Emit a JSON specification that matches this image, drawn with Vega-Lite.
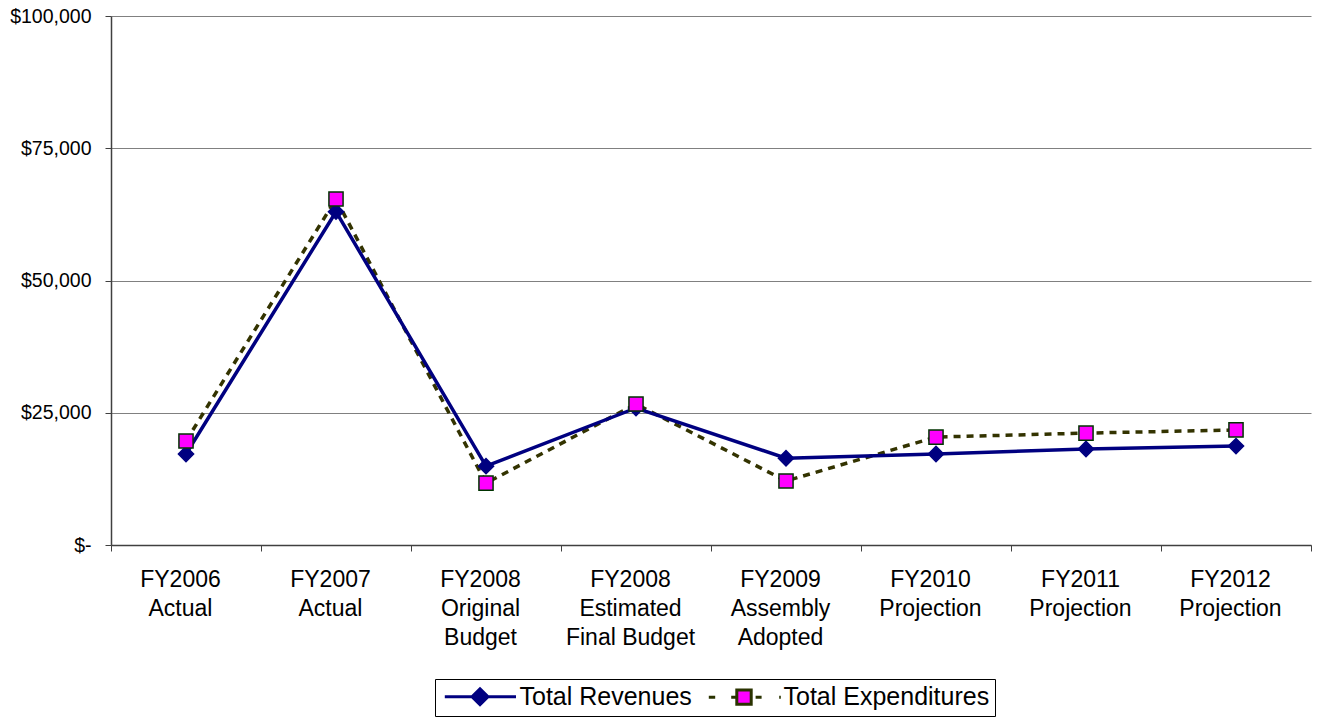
{
  "$schema": "https://vega.github.io/schema/vega-lite/v6.json",
  "width": 1200,
  "height": 529,
  "autosize": {"type": "none"},
  "padding": {"left": 111, "top": 16, "right": 6, "bottom": 172},
  "background": "white",
  "config": {"font": "Liberation Sans", "view": {"stroke": null}},
  "data": {
    "values": [
      {"cat": "FY2006|Actual", "series": "Total Revenues", "value": 17200},
      {"cat": "FY2007|Actual", "series": "Total Revenues", "value": 63000},
      {"cat": "FY2008|Original|Budget", "series": "Total Revenues", "value": 14900},
      {"cat": "FY2008|Estimated|Final Budget", "series": "Total Revenues", "value": 25900},
      {"cat": "FY2009|Assembly|Adopted", "series": "Total Revenues", "value": 16400},
      {"cat": "FY2010|Projection", "series": "Total Revenues", "value": 17200},
      {"cat": "FY2011|Projection", "series": "Total Revenues", "value": 18150},
      {"cat": "FY2012|Projection", "series": "Total Revenues", "value": 18700},
      {"cat": "FY2006|Actual", "series": "Total Expenditures", "value": 19650},
      {"cat": "FY2007|Actual", "series": "Total Expenditures", "value": 65400},
      {"cat": "FY2008|Original|Budget", "series": "Total Expenditures", "value": 11700},
      {"cat": "FY2008|Estimated|Final Budget", "series": "Total Expenditures", "value": 26650},
      {"cat": "FY2009|Assembly|Adopted", "series": "Total Expenditures", "value": 12100},
      {"cat": "FY2010|Projection", "series": "Total Expenditures", "value": 20400},
      {"cat": "FY2011|Projection", "series": "Total Expenditures", "value": 21150},
      {"cat": "FY2012|Projection", "series": "Total Expenditures", "value": 21750}
    ]
  },
  "encoding": {
    "x": {
      "field": "cat",
      "type": "nominal",
      "sort": ["FY2006|Actual", "FY2007|Actual", "FY2008|Original|Budget", "FY2008|Estimated|Final Budget", "FY2009|Assembly|Adopted", "FY2010|Projection", "FY2011|Projection", "FY2012|Projection"],
      "scale": {"type": "band", "paddingInner": 0, "paddingOuter": 0},
      "axis": {
        "title": null,
        "labelExpr": "split(datum.label,'|')",
        "labelAngle": 0,
        "labelFontSize": 23,
        "labelColor": "#000",
        "labelLineHeight": 29,
        "labelPadding": 17,
        "labelOffset": -6,
        "labelBaseline": "top",
        "labelLimit": 300,
        "tickBand": "extent",
        "tickSize": 6,
        "tickColor": "#404040",
        "domainColor": "#404040",
        "domainWidth": 1.5,
        "grid": false
      }
    },
    "y": {
      "field": "value",
      "type": "quantitative",
      "scale": {"domain": [0, 100000], "nice": false},
      "axis": {
        "title": null,
        "values": [0, 25000, 50000, 75000, 100000],
        "labelExpr": "datum.value===0?'$-':'$'+format(datum.value,',')",
        "labelFontSize": 19.5,
        "labelColor": "#000",
        "labelPadding": 14,
        "tickSize": 6,
        "tickColor": "#404040",
        "domainColor": "#404040",
        "domainWidth": 1.5,
        "gridColor": "#808080",
        "gridWidth": 1,
        "gridOpacity": 1
      }
    }
  },
  "layer": [
    {
      "transform": [{"filter": "datum.series==='Total Expenditures'"}],
      "mark": {"type": "line", "color": "#333300", "strokeWidth": 3.5, "strokeDash": [7, 6]}
    },
    {
      "transform": [{"filter": "datum.series==='Total Revenues'"}],
      "mark": {"type": "line", "color": "#000080", "strokeWidth": 3.5}
    },
    {
      "transform": [{"filter": "datum.series==='Total Revenues'"}],
      "mark": {"type": "point", "shape": "diamond", "filled": true, "opacity": 1, "fill": "#000080", "stroke": "#000080", "strokeWidth": 1.5, "size": 230}
    },
    {
      "transform": [{"filter": "datum.series==='Total Expenditures'"}],
      "mark": {"type": "point", "shape": "square", "filled": true, "opacity": 1, "fill": "#ff00ff", "stroke": "#003300", "strokeWidth": 1.5, "size": 200}
    },
    {
      "mark": {"type": "point", "filled": true, "opacity": 0, "strokeWidth": 3},
      "encoding": {
        "shape": {
          "field": "series",
          "type": "nominal",
          "scale": {"domain": ["Total Revenues", "Total Expenditures"], "range": ["M-4.4,0L4.5,0M0,-1L1,0L0,1L-1,0Z", "M-4.4,0L-3.6,0M-1.6,0L-1.05,0M1.45,0L2.2,0M4.4,0L4.6,0M-0.9,-0.9L0.9,-0.9L0.9,0.9L-0.9,0.9Z"]},
          "legend": {
            "orient": "none",
            "legendX": 324,
            "legendY": 663,
            "direction": "horizontal",
            "title": null,
            "labelFontSize": 25,
            "labelFont": "Liberation Sans",
            "labelColor": "#000",
            "labelLimit": 400,
            "symbolSize": 256,
            "symbolStrokeWidth": 3,
            "symbolOpacity": 1,
            "symbolOffset": 27.5,
            "labelOffset": 27,
            "columnPadding": 10,
            "padding": 5,
            "strokeColor": "#000",
            "fillColor": "#fff"
          }
        },
        "fill": {
          "field": "series",
          "type": "nominal",
          "scale": {"domain": ["Total Revenues", "Total Expenditures"], "range": ["#000080", "#ff00ff"]}
        },
        "stroke": {
          "field": "series",
          "type": "nominal",
          "scale": {"domain": ["Total Revenues", "Total Expenditures"], "range": ["#000080", "#2a3300"]}
        }
      }
    }
  ]
}
